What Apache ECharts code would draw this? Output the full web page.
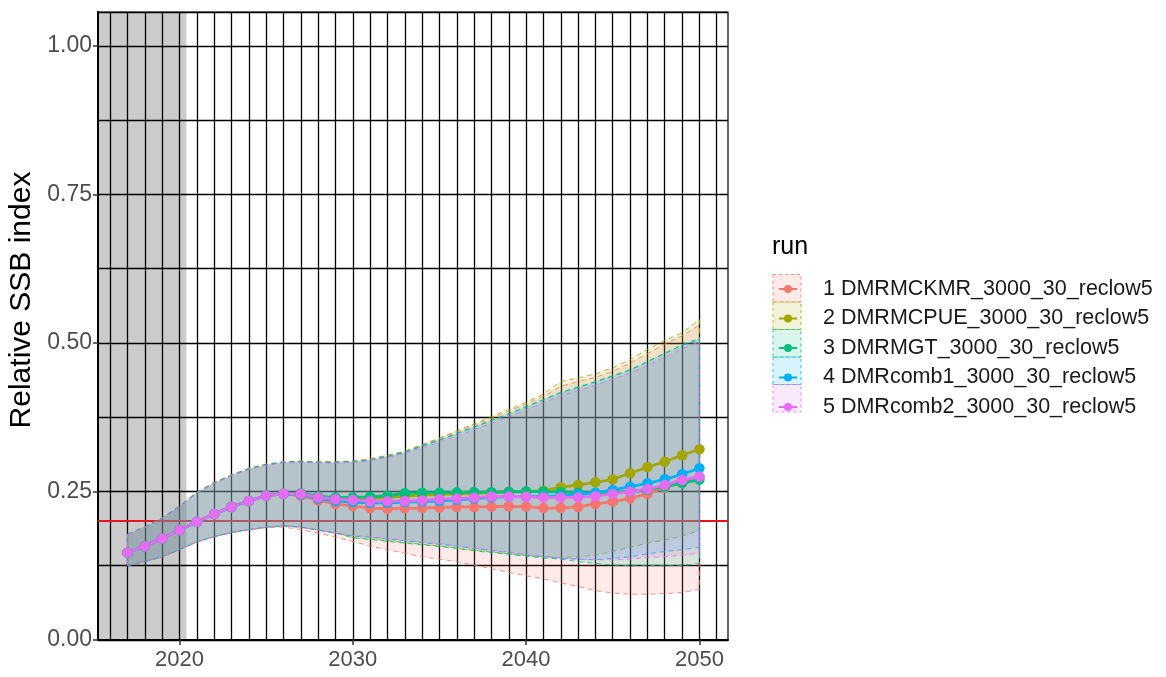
<!DOCTYPE html>
<html><head><meta charset="utf-8">
<script src="https://cdn.jsdelivr.net/npm/echarts@6/dist/echarts.min.js"></script>
<style>html,body{margin:0;padding:0;background:#fff}#chart{width:1166px;height:677px}</style>
</head><body><div id="chart"></div>
<script>
// ---------------- data ----------------
const years = [2017,2018,2019,2020,2021,2022,2023,2024,2025,2026,2027,2028,2029,2030,2031,2032,2033,2034,2035,2036,2037,2038,2039,2040,2041,2042,2043,2044,2045,2046,2047,2048,2049,2050];

const runNames = ['1 DMRMCKMR_3000_30_reclow5','2 DMRMCPUE_3000_30_reclow5','3 DMRMGT_3000_30_reclow5','4 DMRcomb1_3000_30_reclow5','5 DMRcomb2_3000_30_reclow5'];

// medians
const med1 = [0.147,0.158,0.171,0.185,0.199,0.212,0.224,0.234,0.243,0.246,0.243,0.235,0.229,0.2256,0.222,0.221,0.2216,0.222,0.223,0.224,0.224,0.2245,0.225,0.2245,0.222,0.2225,0.224,0.229,0.233,0.2385,0.246,0.256,0.266,0.274];
const med2 = [0.147,0.158,0.171,0.185,0.199,0.212,0.224,0.234,0.243,0.246,0.246,0.241,0.239,0.238,0.238,0.240,0.242,0.244,0.245,0.246,0.247,0.248,0.249,0.2497,0.2514,0.257,0.261,0.2654,0.2705,0.2806,0.291,0.300,0.311,0.321];
const med3 = [0.147,0.158,0.171,0.185,0.199,0.212,0.224,0.234,0.243,0.246,0.247,0.242,0.240,0.240,0.241,0.243,0.247,0.248,0.248,0.2485,0.249,0.249,0.2495,0.250,0.250,0.249,0.248,0.248,0.248,0.250,0.253,0.258,0.264,0.270];
const med4 = [0.147,0.158,0.171,0.185,0.199,0.212,0.224,0.234,0.243,0.246,0.245,0.238,0.234,0.232,0.231,0.231,0.232,0.233,0.234,0.236,0.238,0.240,0.2413,0.2413,0.242,0.242,0.245,0.2475,0.2525,0.258,0.2637,0.2705,0.279,0.289];
const med5 = [0.147,0.158,0.171,0.185,0.199,0.212,0.224,0.234,0.243,0.246,0.246,0.240,0.237,0.2357,0.2335,0.2335,0.234,0.235,0.237,0.238,0.2396,0.2415,0.2415,0.241,0.240,0.240,0.240,0.242,0.2458,0.2497,0.254,0.261,0.2694,0.275];

// upper bounds
const hi1 = [0.178,0.191,0.206,0.226,0.249,0.265,0.278,0.289,0.296,0.300,0.301,0.300,0.300,0.301,0.304,0.310,0.317,0.328,0.339,0.350,0.362,0.373,0.385,0.397,0.410,0.427,0.435,0.442,0.452,0.466,0.482,0.498,0.512,0.530];
const hi2 = [0.177,0.190,0.205,0.225,0.248,0.265,0.278,0.289,0.296,0.300,0.301,0.300,0.300,0.301,0.305,0.311,0.318,0.329,0.340,0.352,0.364,0.376,0.388,0.400,0.414,0.435,0.441,0.448,0.458,0.472,0.489,0.504,0.517,0.539];
const hi3 = [0.178,0.190,0.205,0.225,0.248,0.264,0.277,0.288,0.295,0.299,0.300,0.299,0.299,0.300,0.303,0.309,0.316,0.327,0.337,0.348,0.359,0.370,0.381,0.393,0.405,0.417,0.426,0.435,0.445,0.455,0.469,0.483,0.497,0.508];
const hi4 = [0.178,0.190,0.205,0.225,0.248,0.264,0.277,0.288,0.295,0.299,0.300,0.299,0.299,0.300,0.303,0.309,0.316,0.326,0.336,0.347,0.358,0.369,0.380,0.392,0.404,0.416,0.425,0.434,0.444,0.454,0.468,0.482,0.496,0.506];
const hi5 = [0.177,0.189,0.204,0.224,0.247,0.263,0.276,0.287,0.294,0.298,0.299,0.298,0.298,0.299,0.302,0.307,0.314,0.323,0.333,0.343,0.354,0.365,0.376,0.387,0.399,0.411,0.420,0.429,0.439,0.449,0.462,0.476,0.490,0.502];

// lower bounds
const lo1 = [0.125,0.132,0.140,0.152,0.165,0.174,0.180,0.185,0.189,0.190,0.186,0.180,0.173,0.166,0.158,0.152,0.146,0.140,0.136,0.132,0.126,0.120,0.114,0.108,0.103,0.096,0.090,0.083,0.079,0.077,0.077,0.078,0.080,0.085];
const lo2 = [0.125,0.132,0.140,0.152,0.165,0.174,0.181,0.186,0.190,0.192,0.190,0.185,0.180,0.173,0.170,0.167,0.164,0.161,0.158,0.155,0.151,0.148,0.145,0.142,0.140,0.139,0.140,0.143,0.149,0.156,0.163,0.168,0.175,0.184];
const lo3 = [0.125,0.132,0.140,0.152,0.165,0.174,0.181,0.186,0.190,0.192,0.190,0.185,0.180,0.172,0.169,0.166,0.163,0.160,0.157,0.154,0.150,0.147,0.144,0.141,0.138,0.136,0.132,0.129,0.126,0.125,0.125,0.125,0.125,0.129];
const lo4 = [0.125,0.132,0.140,0.152,0.165,0.174,0.181,0.186,0.190,0.192,0.190,0.185,0.180,0.175,0.173,0.170,0.167,0.164,0.161,0.158,0.154,0.150,0.147,0.143,0.140,0.1375,0.136,0.135,0.1375,0.140,0.145,0.149,0.152,0.156];
const lo5 = [0.125,0.132,0.140,0.152,0.165,0.174,0.181,0.186,0.190,0.192,0.190,0.185,0.180,0.176,0.174,0.171,0.168,0.165,0.162,0.159,0.155,0.151,0.148,0.144,0.141,0.138,0.136,0.135,0.135,0.136,0.139,0.140,0.143,0.146];

const refLevel = 0.2;          // horizontal reference line
const historyStart = 2015.3;   // shaded historical period
const historyEnd = 2020.4;

// axis ticks
const xTickLabels = [2020, 2030, 2040, 2050];
const xGridYears = [2016,2017,2018,2019,2020,2021,2022,2023,2024,2025,2026,2027,2028,2029,2030,2031,2032,2033,2034,2035,2036,2037,2038,2039,2040,2041,2042,2043,2044,2045,2046,2047,2048,2049,2050,2051];
const yTickLabels = [0, 0.25, 0.5, 0.75, 1.0];

// ---------------- styling ----------------
const colors = ['#F8766D','#A3A500','#00BF7D','#00B0F6','#E76BF3'];
const meds = [med1, med2, med3, med4, med5];
const his = [hi1, hi2, hi3, hi4, hi5];
const los = [lo1, lo2, lo3, lo4, lo5];
const xMin = 2015.3, xMax = 2051.65, yMin = 0, yMax = 1.057;
const FONT = "'Liberation Sans', Arial, sans-serif";

function rgba(hex, a) {
  const n = parseInt(hex.slice(1), 16);
  return 'rgba(' + ((n >> 16) & 255) + ',' + ((n >> 8) & 255) + ',' + (n & 255) + ',' + a + ')';
}

const series = [];

// grey historical period
series.push({
  type: 'custom', name: 'history', z: -1, silent: true,
  data: [[historyStart, historyEnd]],
  encode: { x: [0, 1] },
  renderItem: function (params, api) {
    const p0 = api.coord([api.value(0), yMax]);
    const p1 = api.coord([api.value(1), yMin]);
    return { type: 'rect', shape: { x: p0[0], y: p0[1], width: p1[0] - p0[0], height: p1[1] - p0[1] },
             style: { fill: '#cbcbcb' } };
  }
});

// reference line
series.push({
  type: 'line', name: 'ref', data: [], silent: true,
  markLine: { silent: true, symbol: 'none', z: 2, animation: false,
    label: { show: false },
    lineStyle: { color: '#e8161b', width: 2, type: 'solid' },
    data: [{ yAxis: refLevel }] }
});

// ribbons
for (let i = 0; i < 5; i++) {
  const lo = los[i], hi = his[i], col = colors[i];
  series.push({
    type: 'custom', name: runNames[i] + ' band', z: 3, silent: true,
    data: years.map((y, k) => [y, lo[k], hi[k]]),
    encode: { x: 0, y: [1, 2] },
    renderItem: function (params, api) {
      if (params.dataIndex !== 0) return null;
      const top = years.map((y, k) => api.coord([y, hi[k]]));
      const bot = years.map((y, k) => api.coord([y, lo[k]]));
      const poly = top.concat(bot.slice().reverse());
      return { type: 'polygon', shape: { points: poly },
        style: { fill: rgba(col, 0.15), stroke: rgba(col, 0.8), lineWidth: 1, lineDash: [5, 4] } };
    }
  });
}

// median lines with points
for (let i = 0; i < 5; i++) {
  series.push({
    type: 'line', name: runNames[i], z: 4,
    data: years.map((y, k) => [y, meds[i][k]]),
    symbol: 'circle', symbolSize: 10.5, showSymbol: true,
    lineStyle: { color: colors[i], width: 2.8 },
    itemStyle: { color: colors[i] },
    emphasis: { disabled: true }
  });
}

// legend key boxes (dashed, like ggplot keys)
const keyGraphics = colors.map((c, k) => ({
  type: 'rect', z: 1, silent: true,
  shape: { x: 773, y: 274.5 + k * 27.5, width: 28, height: 27.5 },
  style: { fill: rgba(c, 0.15), stroke: rgba(c, 0.8), lineWidth: 1, lineDash: [3, 3] }
}));

const option = {
  animation: false,
  backgroundColor: '#ffffff',
  textStyle: { fontFamily: FONT },
  title: { text: 'run', left: 772, top: 235, padding: 0,
    textStyle: { fontSize: 25, fontWeight: 'normal', color: '#000', fontFamily: FONT } },
  legend: {
    orient: 'vertical', left: 778, top: 278, padding: 0,
    itemWidth: 18, itemHeight: 10, itemGap: 7.5,
    data: runNames,
    textStyle: { fontSize: 21.5, lineHeight: 20, color: '#1a1a1a', padding: [0, 0, 0, 21], fontFamily: FONT },
    selectedMode: false
  },
  graphic: keyGraphics,
  grid: { left: 98, right: 438, top: 12, bottom: 37, show: true, borderColor: '#000', borderWidth: 1.2,
          backgroundColor: 'transparent', containLabel: false, outerBoundsMode: 'none' },
  xAxis: [
    { type: 'value', min: xMin, max: xMax, position: 'bottom',
      axisLine: { show: true, onZero: false, lineStyle: { color: '#000', width: 2 } },
      axisTick: { show: false, customValues: xGridYears },
      axisLabel: { show: false },
      splitLine: { show: true, lineStyle: { color: '#000', width: 1.3 } } },
    { type: 'value', min: xMin, max: xMax, position: 'bottom',
      axisLine: { show: false },
      axisTick: { show: true, customValues: xTickLabels, length: 5, lineStyle: { color: '#333', width: 1.5 } },
      axisLabel: { show: true, customValues: xTickLabels, formatter: v => String(v), fontSize: 22, color: '#4d4d4d', margin: 9, fontFamily: FONT },
      splitLine: { show: false } }
  ],
  yAxis: [
    { type: 'value', min: yMin, max: yMax, interval: 0.125, position: 'left',
      axisLine: { show: true, onZero: false, lineStyle: { color: '#000', width: 2 } },
      axisTick: { show: false }, axisLabel: { show: false },
      splitLine: { show: true, lineStyle: { color: '#000', width: 1.3 } } },
    { type: 'value', min: yMin, max: yMax, position: 'left',
      axisLine: { show: false },
      axisTick: { show: true, customValues: yTickLabels, length: 5, lineStyle: { color: '#333', width: 1.5 } },
      axisLabel: { show: true, customValues: yTickLabels, formatter: v => v.toFixed(2), fontSize: 23, color: '#4d4d4d', margin: 6, fontFamily: FONT },
      splitLine: { show: false },
      name: 'Relative SSB index', nameLocation: 'middle', nameGap: 60,
      nameTextStyle: { fontSize: 30, color: '#000', fontFamily: FONT, padding: [0, 0, 0, 52] } }
  ],
  series: series
};

const chart = echarts.init(document.getElementById('chart'), null, { renderer: 'canvas' });
chart.setOption(option);
</script></body></html>
